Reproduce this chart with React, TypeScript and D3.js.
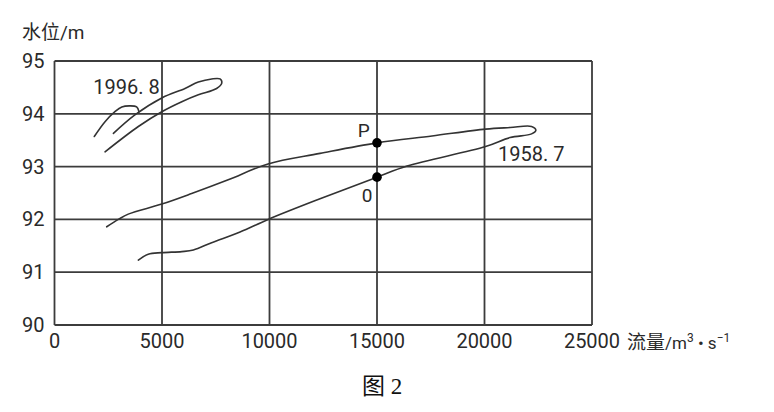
import { useEffect, useRef } from 'react'
import * as d3 from 'd3'

// axis ticks
const xTicks = [0, 5000, 10000, 15000, 20000, 25000]
const yTicks = [90, 91, 92, 93, 94, 95]

// 1958.7 flood loop: rising branch out to the tip, then falling branch back
const loop1958X = [2430, 2970, 3430, 4990, 6380, 8080, 9930, 12350, 15000, 17560, 20050, 21190, 22190, 22390, 22190, 21190, 20050, 16400, 15000, 12350, 9940, 8630, 7310, 6460, 5920, 4990, 4360, 3900]
const loop1958Y = [91.86, 92.0, 92.1, 92.29, 92.49, 92.75, 93.05, 93.25, 93.45, 93.58, 93.71, 93.74, 93.76, 93.69, 93.62, 93.55, 93.38, 93.01, 92.8, 92.39, 92.0, 91.76, 91.56, 91.42, 91.39, 91.37, 91.34, 91.23]

// 1996.8 flood loop
const loop1996X = [2350, 3900, 4990, 5920, 6690, 7540, 7780, 7700, 7310, 6690, 6070, 4990, 3740, 2740]
const loop1996Y = [93.28, 93.76, 94.04, 94.23, 94.36, 94.48, 94.58, 94.66, 94.66, 94.6, 94.48, 94.3, 93.98, 93.63]

// small hook at the start of 1996.8
const hook1996X = [1850, 2350, 2810, 3130, 3510, 3820, 3930]
const hook1996Y = [93.57, 93.85, 94.04, 94.13, 94.15, 94.13, 94.04]

// marked points P and 0 at 15000
const pointNames = ['P', '0']
const pointX = [15000, 15000]
const pointY = [93.45, 92.8]

export default function App() {
  const svgRef = useRef<SVGSVGElement>(null)

  useEffect(() => {
    if (!svgRef.current) return
    const svg = d3.select(svgRef.current)
    svg.selectAll('*').remove()

    const width = 774
    const height = 412
    const margin = { top: 61, left: 54.5, right: 182, bottom: 87 }
    const innerWidth = width - margin.left - margin.right
    const innerHeight = height - margin.top - margin.bottom
    const ink = '#2a2a2a'
    const font = 'Roboto, "Noto Sans CJK SC", sans-serif'

    svg.attr('width', width).attr('height', height)
    svg.append('rect').attr('width', width).attr('height', height).attr('fill', '#fff')

    const g = svg.append('g').attr('transform', `translate(${margin.left},${margin.top})`)

    const x = d3.scaleLinear().domain([0, 25000]).range([0, innerWidth])
    const y = d3.scaleLinear().domain([90, 95]).range([innerHeight, 0])

    // grid
    g.selectAll('line.vx')
      .data(xTicks)
      .enter()
      .append('line')
      .attr('x1', d => x(d)).attr('x2', d => x(d))
      .attr('y1', 0).attr('y2', innerHeight)
      .attr('stroke', '#3c3c3c')
      .attr('stroke-width', 1.8)

    g.selectAll('line.hy')
      .data(yTicks)
      .enter()
      .append('line')
      .attr('x1', 0).attr('x2', innerWidth)
      .attr('y1', d => y(d)).attr('y2', d => y(d))
      .attr('stroke', '#3c3c3c')
      .attr('stroke-width', 1.8)

    // tick labels
    g.selectAll('text.xt')
      .data(xTicks)
      .enter()
      .append('text')
      .attr('x', d => x(d))
      .attr('y', innerHeight + 23)
      .attr('text-anchor', 'middle')
      .attr('font-family', font)
      .attr('font-size', 20)
      .attr('fill', ink)
      .text(d => String(d))

    g.selectAll('text.yt')
      .data(yTicks)
      .enter()
      .append('text')
      .attr('x', -10)
      .attr('y', d => y(d))
      .attr('dy', '0.35em')
      .attr('text-anchor', 'end')
      .attr('font-family', font)
      .attr('font-size', 20)
      .attr('fill', ink)
      .text(d => String(d))

    // curves
    const line = d3.line<[number, number]>()
      .x(d => x(d[0]))
      .y(d => y(d[1]))
      .curve(d3.curveCatmullRom.alpha(0.5))

    const series = [
      d3.zip(loop1958X, loop1958Y) as [number, number][],
      d3.zip(loop1996X, loop1996Y) as [number, number][],
      d3.zip(hook1996X, hook1996Y) as [number, number][],
    ]
    series.forEach(pts => {
      g.append('path')
        .datum(pts)
        .attr('fill', 'none')
        .attr('stroke', '#333')
        .attr('stroke-width', 1.6)
        .attr('stroke-linecap', 'round')
        .attr('d', line)
    })

    // series labels
    g.append('text')
      .attr('x', x(1800)).attr('y', y(94.37))
      .attr('font-family', font).attr('font-size', 20).attr('fill', ink)
      .text('1996. 8')

    g.append('text')
      .attr('x', x(20630)).attr('y', y(93.1))
      .attr('font-family', font).attr('font-size', 20).attr('fill', ink)
      .text('1958. 7')

    // points
    g.selectAll('circle.pt')
      .data(pointX)
      .enter()
      .append('circle')
      .attr('cx', d => x(d))
      .attr('cy', (_, i) => y(pointY[i]))
      .attr('r', 4.8)
      .attr('fill', '#000')

    g.append('text')
      .attr('x', x(14380)).attr('y', y(93.56))
      .attr('text-anchor', 'middle')
      .attr('font-family', font).attr('font-size', 19).attr('fill', ink)
      .text(pointNames[0])
    g.append('text')
      .attr('x', x(14540)).attr('y', y(92.33))
      .attr('text-anchor', 'middle')
      .attr('font-family', font).attr('font-size', 19).attr('fill', ink)
      .text(pointNames[1])

    // axis titles
    const yt = svg.append('text')
      .attr('x', 22).attr('y', 39)
      .attr('font-family', font).attr('fill', ink)
    yt.append('tspan').attr('font-size', 19).text('水位')
    yt.append('tspan').attr('font-size', 19).text('/m')

    const xt = svg.append('text')
      .attr('x', 627).attr('y', 349)
      .attr('font-family', font).attr('fill', ink)
    xt.append('tspan').attr('font-size', 19).text('流量')
    xt.append('tspan').attr('font-size', 17).text('/m')
    xt.append('tspan').attr('font-size', 12).attr('dy', -7).text('3')
    xt.append('tspan').attr('font-size', 17).attr('dy', 7).text(' • s')
    xt.append('tspan').attr('font-size', 12).attr('dy', -7).text('−1')

    // caption
    svg.append('text')
      .attr('x', 382).attr('y', 394)
      .attr('text-anchor', 'middle')
      .attr('font-family', '"Liberation Serif", "Noto Sans CJK SC", serif')
      .attr('font-size', 23)
      .attr('fill', '#111')
      .text('图 2')
  }, [])

  return <svg ref={svgRef} style={{ position: 'absolute', left: 0, top: 0 }} />
}
